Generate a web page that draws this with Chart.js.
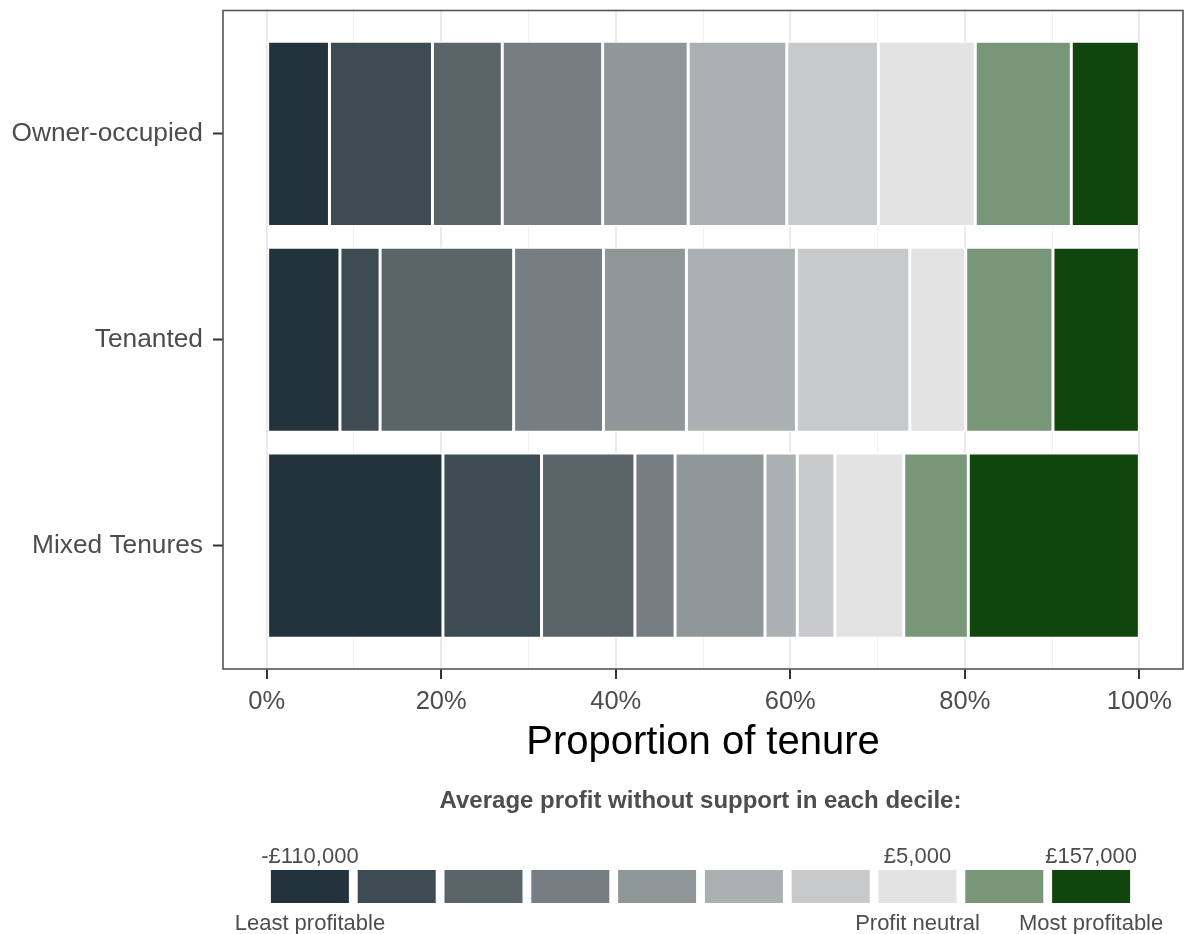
<!DOCTYPE html>
<html>
<head>
<meta charset="utf-8">
<script src="https://cdn.jsdelivr.net/npm/chart.js@4.4.0/dist/chart.umd.min.js"></script>
<style>
  html, body { margin: 0; padding: 0; background: #fff; }
  #wrap { width: 1185px; height: 934px; }
</style>
</head>
<body>
<div id="wrap"><canvas id="tenureChart" width="1185" height="934"></canvas></div>
<script>
// kategori dan data per tenure (persen tiap desil)
const tenures = ['Owner-occupied', 'Tenanted', 'Mixed Tenures'];
const deciles = ['Decile 1', 'Decile 2', 'Decile 3', 'Decile 4', 'Decile 5',
                 'Decile 6', 'Decile 7', 'Decile 8', 'Decile 9', 'Decile 10'];
const ownerOccupied = [7.2, 11.8, 8.0, 11.5, 9.8, 11.3, 10.5, 11.1, 11.0, 7.8];
const tenanted      = [8.4, 4.6, 15.3, 10.3, 9.5, 12.6, 13.0, 6.4, 10.0, 9.9];
const mixedTenures  = [20.2, 11.3, 10.7, 4.6, 10.3, 3.7, 4.3, 7.9, 7.4, 19.6];
const xTicks = [0, 10, 20, 30, 40, 50, 60, 70, 80, 90, 100];

const decileColors = ['#22333B', '#3D4B52', '#5A6469', '#767D83', '#8F9799',
                      '#ABB0B2', '#C8C9CB', '#E3E3E3', '#789678', '#10450D'];
const legendTitle = 'Average profit without support in each decile:';
const legendTopLabels = ['-£110,000', '', '', '', '', '', '', '£5,000', '', '£157,000'];
const legendBottomLabels = ['Least profitable', '', '', '', '', '', '', 'Profit neutral', '', 'Most profitable'];

const FONT = '"Liberation Sans", Arial, sans-serif';
const textColor = '#4D4D4D';
const shareRows = [ownerOccupied, tenanted, mixedTenures];

// border panel seperti ggplot
const panelBorder = {
    id: 'panelBorder',
    afterDraw(chart) {
        const { ctx, chartArea } = chart;
        ctx.save();
        ctx.strokeStyle = '#555555';
        ctx.lineWidth = 1.6;
        ctx.strokeRect(chartArea.left, chartArea.top,
                       chartArea.right - chartArea.left, chartArea.bottom - chartArea.top);
        ctx.restore();
    }
};

// legend desil di bawah chart
const decileLegend = {
    id: 'decileLegend',
    afterDraw(chart) {
        const ctx = chart.ctx;
        const step = 86.8, w = 78, h = 33, top = 870, mid = 700.5;
        const start = mid - step * (decileColors.length - 1) / 2;
        ctx.save();
        ctx.textAlign = 'center';
        ctx.textBaseline = 'alphabetic';
        ctx.fillStyle = textColor;
        ctx.font = 'bold 24px ' + FONT;
        ctx.fillText(legendTitle, mid, 808);
        ctx.font = '22px ' + FONT;
        decileColors.forEach((c, i) => {
            const cx = start + i * step;
            ctx.fillStyle = c;
            ctx.fillRect(cx - w / 2, top, w, h);
            ctx.fillStyle = textColor;
            if (legendTopLabels[i]) ctx.fillText(legendTopLabels[i], cx, 863);
            if (legendBottomLabels[i]) ctx.fillText(legendBottomLabels[i], cx, 930);
        });
        ctx.restore();
    }
};

const datasets = deciles.map((d, i) => ({
    label: d,
    data: shareRows.map((row, j) => ({ x: row[i], y: j })),
    backgroundColor: decileColors[i],
    borderColor: '#FFFFFF',
    borderWidth: 1.5,
    borderSkipped: false,
    barPercentage: 0.9,
    categoryPercentage: 1
}));

const isMajor = v => v % 20 === 0;

new Chart(document.getElementById('tenureChart').getContext('2d'), {
    type: 'bar',
    data: { datasets: datasets },
    options: {
        responsive: false,
        animation: false,
        devicePixelRatio: 1,
        indexAxis: 'y',
        layout: { padding: { top: 10.5, right: 2, bottom: 157, left: 0 } },
        plugins: {
            legend: { display: false },
            tooltip: { enabled: false }
        },
        scales: {
            x: {
                type: 'linear',
                min: -5,
                max: 105,
                stacked: true,
                afterBuildTicks: axis => { axis.ticks = xTicks.map(v => ({ value: v })); },
                afterFit: axis => { axis.height = 108; },
                ticks: {
                    autoSkip: false,
                    maxRotation: 0,
                    padding: 8,
                    color: textColor,
                    font: { family: FONT, size: 25.5 },
                    callback: v => isMajor(v) ? v + '%' : ''
                },
                grid: {
                    color: ctx => (ctx.tick && isMajor(ctx.tick.value)) ? '#EBEBEB' : '#F1F1F1',
                    lineWidth: ctx => (ctx.tick && isMajor(ctx.tick.value)) ? 2 : 1,
                    tickColor: ctx => (ctx.tick && isMajor(ctx.tick.value)) ? '#333333' : 'rgba(0,0,0,0)',
                    tickLength: 10,
                    tickWidth: 2
                },
                border: { display: false },
                title: {
                    display: true,
                    text: 'Proportion of tenure',
                    color: '#000000',
                    font: { family: FONT, size: 40 },
                    padding: { top: 0, bottom: 10 }
                }
            },
            y: {
                type: 'linear',
                min: -0.6,
                max: 2.6,
                reverse: true,
                stacked: true,
                offset: false,
                afterBuildTicks: axis => { axis.ticks = tenures.map((t, i) => ({ value: i })); },
                afterFit: axis => {
                    axis.width = 223;
                    axis.paddingTop = 0;
                    axis.paddingBottom = 0;
                },
                ticks: {
                    autoSkip: false,
                    padding: 10,
                    color: textColor,
                    font: { family: FONT, size: 26.3 },
                    callback: v => tenures[v]
                },
                grid: {
                    offset: false,
                    drawOnChartArea: false,
                    tickColor: '#333333',
                    tickLength: 10,
                    tickWidth: 2
                },
                border: { display: false }
            }
        }
    },
    plugins: [panelBorder, decileLegend]
});
</script>
</body>
</html>
